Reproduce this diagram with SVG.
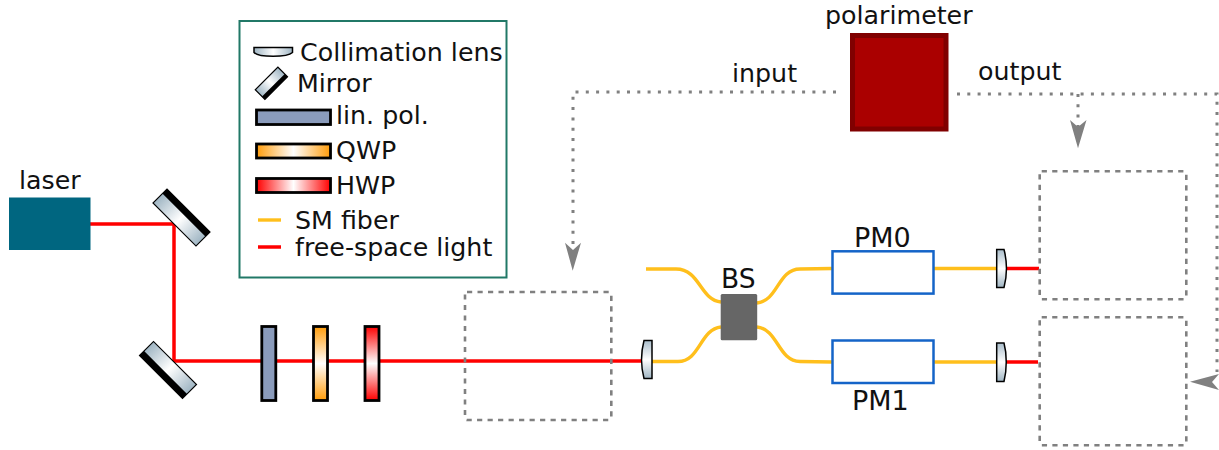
<svg xmlns="http://www.w3.org/2000/svg" width="1219" height="450" viewBox="0 0 1219 450">
<style>
text{font-family:"DejaVu Sans",sans-serif;font-size:25.3px;fill:#111}
.big{font-size:27px}
.red{fill:none;stroke:#f00;stroke-width:3.5}
.fib{fill:none;stroke:#ffbf1c;stroke-width:3.4}
.dash{fill:none;stroke:#808080;stroke-width:2.6;stroke-dasharray:5.2 5.3}
.dot{fill:none;stroke:#808080;stroke-width:3;stroke-dasharray:3 7.3}
.arr{fill:#808080}
.opt{stroke:#000;stroke-width:2.8}
.lens{stroke:#000;stroke-width:1.5}
.pm{fill:#fff;stroke:#1464c8;stroke-width:2.5}
</style>
<defs>
<linearGradient id="gm" x1="0" x2="1" y1="0" y2="0"><stop offset="0" stop-color="#9fb5c3"/><stop offset=".5" stop-color="#fff"/><stop offset="1" stop-color="#9fb5c3"/></linearGradient>
<linearGradient id="gl" x1="0" x2="0" y1="0" y2="1"><stop offset="0" stop-color="#a9bdcb"/><stop offset=".5" stop-color="#fff"/><stop offset="1" stop-color="#9fb5c3"/></linearGradient>
<linearGradient id="gqh" x1="0" x2="1" y1="0" y2="0"><stop offset="0" stop-color="#ff9c0a"/><stop offset=".5" stop-color="#fff"/><stop offset="1" stop-color="#ff9c0a"/></linearGradient>
<linearGradient id="ghh" x1="0" x2="1" y1="0" y2="0"><stop offset="0" stop-color="#f00"/><stop offset=".5" stop-color="#fff"/><stop offset="1" stop-color="#f00"/></linearGradient>
<linearGradient id="gqv" x1="0" x2="0" y1="0" y2="1"><stop offset="0" stop-color="#ff9c0a"/><stop offset=".5" stop-color="#fff"/><stop offset="1" stop-color="#ff9c0a"/></linearGradient>
<linearGradient id="ghv" x1="0" x2="0" y1="0" y2="1"><stop offset="0" stop-color="#f00"/><stop offset=".5" stop-color="#fff"/><stop offset="1" stop-color="#f00"/></linearGradient>
<g id="mir"><rect x="-30.400" y="-9.900" width="60.800" height="19.800" fill="url(#gm)" stroke="#000" stroke-width="1.200"/><rect x="-30.400" y="-9.900" width="60.800" height="6.500" fill="#000"/></g>
</defs>
<g id="connectors">
<path class="red" d="M90 224H174V361H642"/>
<path class="fib" d="M646 269H676C700 269 700 300 721 302"/>
<path class="fib" d="M652 361.500H678C700 361.500 700 329 721 327"/>
<path class="fib" d="M757 303C778 301 778 269 800 269L832 268.500"/>
<path class="fib" d="M757 327C778 329 778 361 800 361.500L832 362"/>
<path class="fib" d="M934 268.500H997"/>
<path class="fib" d="M934 362H997"/>
<path class="red" d="M1006 268.500H1039"/>
<path class="red" d="M1006 362H1038"/>
<path class="dot" d="M836 92H573V250"/>
<path class="dot" d="M957 94H1217V372"/>
<path class="dot" d="M1078 94V127"/>
<path class="arr" d="M572.700 270.700L565 242.700L573 250L581 242.700Z"/>
<path class="arr" d="M1078 148.300L1070 120L1078 127L1086.500 120Z"/>
<path class="arr" d="M1190 381.700L1219 374L1212 382L1219 390Z"/>
</g>
<g id="laser"><rect x="9" y="197.500" width="81.500" height="52.500" fill="#006680"/><text x="19" y="189">laser</text></g>
<g id="mirror1"><use href="#mir" transform="translate(181.500 217.500) rotate(45)"/></g>
<g id="mirror2"><use href="#mir" transform="translate(168 370) rotate(225)"/></g>
<g id="linpol"><rect class="opt" x="261.800" y="326.500" width="14" height="74" fill="#8a9bbb"/></g>
<g id="qwp"><rect class="opt" x="313.500" y="326.500" width="14" height="74" fill="url(#gqv)"/></g>
<g id="hwp"><rect class="opt" x="365" y="326.500" width="14" height="74" fill="url(#ghv)"/></g>
<g id="box1"><rect class="dash" x="465" y="292" width="146.300" height="128" rx="2"/></g>
<g id="box2"><rect class="dash" x="1039.700" y="171.200" width="146.600" height="128" rx="2"/></g>
<g id="box3"><rect class="dash" x="1039.700" y="317.300" width="146.600" height="128" rx="2"/></g>
<g id="lens1"><path class="lens" fill="url(#gl)" d="M644 340.500H652V378.500H644C641 367 641 352 644 340.500Z"/></g>
<g id="lens2"><path class="lens" fill="url(#gl)" d="M996.700 249.500H1004C1007 261 1007 276 1004 287.500H996.700Z"/></g>
<g id="lens3"><path class="lens" fill="url(#gl)" d="M996.700 343H1004C1007 354 1007 370 1004 381.500H996.700Z"/></g>
<g id="bs"><rect x="720.700" y="294" width="36.500" height="46.300" rx="1.500" fill="#666"/><text class="big" x="721" y="287.500" style="font-size:26.500px">BS</text></g>
<g id="pm0"><rect class="pm" x="832.500" y="251.300" width="101" height="42.300"/><text class="big" x="854" y="246.500">PM0</text></g>
<g id="pm1"><rect class="pm" x="832.500" y="340.500" width="101" height="42.500"/><text class="big" x="852" y="410">PM1</text></g>
<g id="polarimeter"><rect x="852.500" y="35.500" width="93.500" height="93.500" fill="#a00" stroke="#800000" stroke-width="5"/><text x="825" y="23.500">polarimeter</text></g>
<g id="label-input"><text x="732" y="82">input</text></g>
<g id="label-output"><text x="978" y="80">output</text></g>
<g id="legend">
<rect x="239.500" y="21" width="267" height="256.500" fill="none" stroke="#217867" stroke-width="2"/>
<path class="lens" fill="url(#gm)" d="M254 47.500H292.500V52.500C287 57.500 259 57.500 254 52.500Z"/>
<text x="300" y="60.500">Collimation lens</text>
<g transform="translate(271.400 83.300) rotate(135)"><rect x="-16" y="-6.800" width="32" height="13.600" fill="url(#gm)" stroke="#000" stroke-width="1.200"/><rect x="-16" y="-6.800" width="32" height="4" fill="#000"/></g>
<text x="297" y="91.500">Mirror</text>
<rect class="opt" x="256.500" y="110" width="74" height="14.500" fill="#8a9bbb"/>
<text x="336" y="124">lin. pol.</text>
<rect class="opt" x="256.500" y="144" width="74" height="14" fill="url(#gqh)"/>
<text x="336" y="159">QWP</text>
<rect class="opt" x="256.500" y="178.500" width="74" height="14" fill="url(#ghh)"/>
<text x="336" y="194">HWP</text>
<path class="fib" d="M258 220H281"/>
<text x="295" y="229">SM fiber</text>
<path class="red" d="M258 247H281"/>
<text x="295" y="256">free-space light</text>
</g>
</svg>
